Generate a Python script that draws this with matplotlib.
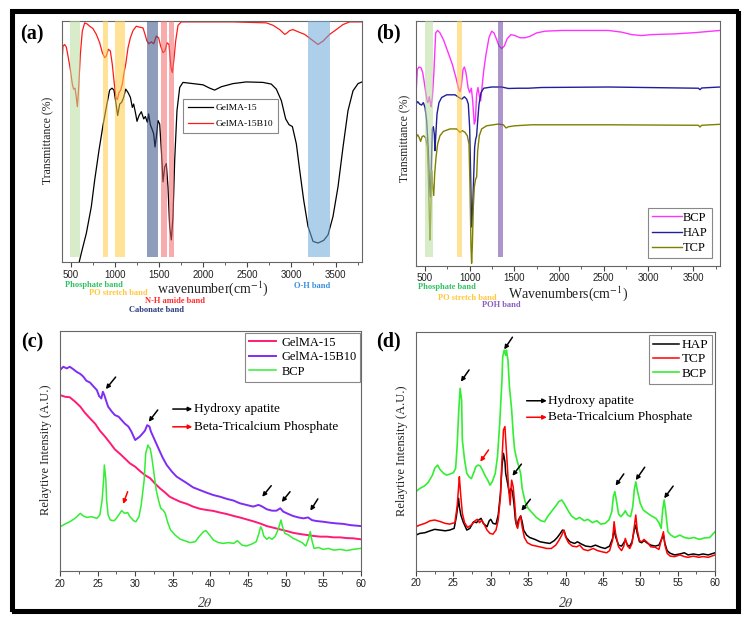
import numpy as np
import matplotlib
matplotlib.use("Agg")
import matplotlib.pyplot as plt
from matplotlib.patches import Rectangle

plt.rcParams['font.family'] = ['Liberation Serif', 'DejaVu Serif']
plt.rcParams['mathtext.fontset'] = 'stix'

# ---------------- (a) FTIR GelMA ----------------
a_gel_x = [595, 619, 676, 732, 770, 819, 865, 902, 940, 967, 989, 1008, 1031, 1054, 1076, 1099, 1122, 1148,
           1175, 1197, 1212, 1235, 1250, 1273, 1299, 1326, 1345, 1367, 1382, 1401, 1420, 1439, 1454, 1469,
           1488, 1507, 1526, 1545, 1564, 1582, 1601, 1620, 1639, 1658, 1677, 1703, 1734, 1771, 1885, 1998,
           2074, 2130, 2206, 2338, 2489, 2678, 2772, 2829, 2886, 2935, 2973, 3011, 3056, 3094, 3139, 3188,
           3245, 3301, 3366, 3415, 3471, 3528, 3585, 3641, 3698, 3755, 3800]
a_gel_y = [0, 3.7, 12, 23, 34, 46.5, 57, 64.4, 71.6, 72.4, 71.6, 67, 61, 65.8, 66.5, 68.6, 72, 70.6,
           68.6, 64.4, 65.8, 61.7, 58.6, 61, 62.6, 59.6, 60.6, 58.2, 61.7, 57.2, 55.4, 53.4, 47.9, 52,
           58.9, 57.5, 46.5, 33.4, 39.6, 41, 31.3, 14.8, 9.2, 18.9, 42.3, 63, 72.7, 74.8, 74.3, 73.8,
           72.4, 71.6, 73, 74.3, 75, 74.8, 74.1, 72, 67.2, 59.6, 57.2, 56.4, 49.2, 38.2, 25.8, 14.8,
           8.6, 7.9, 9, 11.3, 18.9, 31.3, 47.9, 63, 71.3, 74.3, 75]
a_b10_x = [400, 411, 430, 449, 468, 494, 517, 532, 547, 562, 574, 589, 608, 630, 657, 683, 714, 751, 789,
           827, 857, 884, 902, 925, 948, 970, 993, 1012, 1027, 1046, 1065, 1084, 1103, 1122, 1148, 1175,
           1205, 1242, 1280, 1318, 1341, 1363, 1386, 1412, 1439, 1469, 1495, 1518, 1545, 1567, 1590, 1613,
           1635, 1650, 1669, 1688, 1715, 1752, 2338, 2716, 2791, 2867, 2924, 2950, 2980, 3018, 3075, 3150,
           3226, 3301, 3358, 3433, 3509, 3585, 3660, 3800]
a_b10_y = [83, 89.9, 90.6, 89.5, 85.8, 80.3, 74.1, 72, 72.4, 68.6, 64.7, 72.7, 86.5, 96.1, 99.6, 99.2, 98.2,
           97.2, 94.8, 91.3, 87.2, 85.1, 85.8, 88.6, 87.9, 82.3, 74.1, 68.6, 67.6, 70.6, 71.6, 74.1, 78.9,
           82.3, 89.2, 93.4, 96.4, 98.2, 97.8, 97.5, 94.8, 92, 90.9, 91.7, 90.9, 94.1, 93.4, 89.9, 87.2,
           87.9, 91.3, 90.6, 81, 78.9, 84.4, 92, 98.6, 100, 100, 99.6, 98.6, 96.8, 94.8, 95.4, 96.4, 96.8,
           95.9, 94.8, 92.7, 90.6, 92, 94.8, 96.8, 98.9, 100, 100]
a_bands = [(494, 608), (861, 925), (997, 1110), (1367, 1488), (1518, 1590), (1609, 1669), (3188, 3434)]
a_band_colors = ['#bbde9e', '#ffcb3f', '#ffcb3f', '#344d82', '#f56666', '#f56666', '#6ba8d9']

# ---------------- (b) FTIR ceramics ----------------
b_bcp_x = [400, 415, 434, 456, 475, 493, 512, 530, 542, 549, 560, 568, 583, 601, 620, 642, 668, 706, 754,
           806, 847, 873, 892, 907, 926, 941, 959, 982, 1000, 1019, 1034, 1052, 1064, 1078, 1093, 1108,
           1123, 1138, 1157, 1183, 1216, 1246, 1272, 1302, 1328, 1358, 1388, 1421, 1462, 1507, 1563, 1619,
           1675, 1750, 1843, 2029, 2365, 2551, 2700, 2812, 2924, 3036, 3297, 3520, 3800]
b_bcp_y = [70.3, 80.5, 81.5, 81.2, 79.2, 75.1, 70.3, 66.9, 67.6, 69.3, 66.9, 65.2, 69, 79.9, 95.5, 96.5,
           95.5, 92.8, 88, 82.6, 77.1, 73.1, 71.4, 73.7, 80.5, 81.5, 79.2, 73.1, 71, 72.8, 67.6, 58.1,
           59.5, 70.3, 73.1, 69.7, 67.6, 73.1, 79.9, 86.7, 93.5, 96.2, 95.5, 92.8, 90.1, 89.1, 90.1, 93.2,
           94.8, 94.4, 93.5, 93.5, 94.1, 95.5, 96.2, 96.5, 96.5, 96.5, 95.8, 94.8, 94.4, 94.8, 95.1, 95.6, 96.5]
b_hap_x = [400, 419, 441, 463, 482, 501, 519, 538, 549, 560, 571, 583, 594, 605, 612, 620, 635, 657, 687,
           743, 836, 881, 911, 941, 967, 985, 1000, 1011, 1022, 1034, 1045, 1056, 1067, 1078, 1090, 1105,
           1127, 1157, 1246, 1358, 1433, 1545, 1656, 1805, 2551, 3558, 3576, 3595, 3800]
b_hap_y = [66.3, 67.3, 66.3, 65.9, 66.9, 64.9, 59.5, 47.2, 35, 28.2, 40.4, 56.1, 57, 54, 47.2, 52.7, 62.2,
           66.9, 69, 70.1, 70.1, 69, 68.3, 69.3, 68.3, 66.3, 56.7, 37.7, 15.9, 24.1, 36.3, 48.6, 51.8,
           53.3, 59.5, 66.3, 71, 72.8, 73.3, 73.3, 72.7, 72.8, 72.8, 73.1, 73.3, 72.8, 72.2, 72.9, 73.3]
b_tcp_x = [400, 419, 437, 452, 467, 486, 508, 527, 538, 549, 557, 564, 575, 586, 598, 609, 624, 642, 668,
           706, 780, 855, 892, 918, 948, 974, 993, 1004, 1015, 1022, 1030, 1041, 1052, 1067, 1078, 1090,
           1108, 1134, 1190, 1321, 1377, 1407, 1433, 1507, 1694, 2551, 3558, 3576, 3595, 3800]
b_tcp_y = [52.7, 53.7, 52.4, 51, 52.9, 53.3, 52.4, 48.6, 37.7, 20, 10.5, 20, 39, 32.2, 28.8, 37.7, 44.5,
           49.9, 53.3, 55.1, 56.1, 56.1, 54.7, 55.4, 54.7, 53.3, 49.9, 32.2, 7.8, 1, 7.8, 24.1, 32.2, 35.6,
           36.3, 47.2, 53.3, 56.1, 57.4, 58.1, 57.8, 56.5, 57, 57.4, 57.8, 57.8, 57.6, 56.9, 57.6, 58]
b_bands = [(500, 587), (858, 918), (1321, 1377)]
b_band_colors = ['#bbde9e', '#ffcb3f', '#6a3fa3']

# ---------------- (c) XRD GelMA ----------------
c_g15_x = [20, 20.7, 21.3, 22, 22.7, 23.3, 24, 24.7, 25.3, 26, 26.7, 27.3, 28, 28.6, 29.3, 30, 30.6, 31.3,
           32, 32.6, 33.3, 34, 34.6, 35.3, 36, 36.9, 37.7, 38.6, 39.5, 40.4, 41.3, 42.2, 43.1, 43.9, 44.8,
           45.7, 46.6, 47.5, 48.4, 49.3, 50.2, 51, 51.9, 52.8, 53.7, 54.6, 55.5, 56.4, 57.3, 58.1, 59, 60]
c_g15_y = [73.2, 72.5, 72.3, 70.5, 68.4, 65.9, 63.5, 61.2, 58.4, 55.9, 53.1, 50.6, 48.7, 46.9, 44.8, 43.4,
           41.7, 39.9, 38.6, 36.5, 34.4, 32.6, 30.9, 29.8, 28.8, 27.9, 26.8, 25.9, 25.4, 25, 24.3, 23.7,
           22.9, 22.3, 21.5, 20.7, 19.8, 18.7, 18, 17.3, 16.6, 15.9, 15.4, 15, 14.6, 14.3, 14.3, 14, 14,
           13.7, 13.6, 13.2]
c_b10_x = [20, 20.44, 20.9, 21.3, 21.8, 22.2, 22.7, 23.1, 23.5, 24, 24.4, 24.9, 25.2, 25.5, 25.7, 25.9,
           26.1, 26.4, 26.9, 27.3, 27.8, 28.2, 28.6, 29.1, 29.5, 30, 30.3, 30.6, 31, 31.3, 31.6, 31.9, 32.1,
           32.4, 32.8, 33.2, 33.7, 34.2, 34.9, 35.5, 36.2, 36.9, 37.7, 38.6, 39.5, 40.4, 41.3, 42.2, 43.1,
           43.9, 44.8, 45.7, 46.4, 46.8, 47.5, 48.2, 48.8, 49.3, 49.7, 50.4, 51, 51.7, 52.4, 53, 53.5, 54.1,
           55, 55.9, 56.8, 57.7, 58.6, 60]
c_b10_y = [83.6, 85, 84.3, 85, 83.9, 82.9, 82, 80.9, 79.2, 78.4, 77, 75.3, 72.8, 71.8, 74.6, 73.2, 71.2,
           68.4, 66.3, 64.9, 64.2, 62.8, 61.4, 60.1, 58, 54.5, 55.2, 55.9, 57.3, 58.4, 60.7, 60.1, 58, 55.9,
           53.1, 50.3, 46.9, 44.1, 41.3, 39.3, 37.9, 36.5, 34.8, 33.7, 32.6, 31.6, 30.9, 30, 29.3, 28.2,
           27.5, 26.8, 27.5, 27, 25.7, 25.1, 25.1, 26.1, 24.7, 23.7, 22.9, 22.3, 21.9, 22.3, 21.2, 20.8,
           20.5, 20.1, 19.8, 19.6, 19.1, 18.7]
c_bcp_x = [20, 20.7, 21.3, 22, 22.7, 23.1, 23.6, 24.2, 24.9, 25.3, 25.6, 25.8, 25.9, 26.1, 26.2, 26.4, 26.7,
           27.2, 27.5, 27.9, 28.2, 28.6, 29, 29.3, 29.8, 30.1, 30.5, 30.8, 31.2, 31.4, 31.7, 31.8, 32, 32.2,
           32.5, 32.8, 33.1, 33.4, 33.7, 34, 34.3, 34.7, 35.3, 36, 36.6, 37.3, 38, 38.5, 39.1, 39.4, 39.9,
           40.4, 41.1, 41.7, 42.4, 43.1, 43.6, 44.2, 44.8, 45.5, 46.1, 46.4, 46.7, 46.9, 47.1, 47.5, 47.8,
           48.2, 48.6, 49, 49.4, 49.6, 49.9, 50.4, 51, 51.5, 52.2, 52.7, 53, 53.3, 53.5, 53.8, 54.4, 55,
           55.7, 56.4, 57.3, 58.1, 59, 60]
c_bcp_y = [18.4, 19.6, 20.5, 21.9, 24, 22.9, 22.3, 22.6, 21.9, 23.3, 29.5, 37.9, 44.1, 37.9, 29.5, 23.3,
           21.2, 20.9, 21.9, 23.7, 25.1, 24, 24.3, 22.6, 20.9, 20.5, 22.6, 27.5, 37.9, 49, 52.4, 51.7, 51,
           47.6, 40.6, 33.7, 29.5, 26.1, 25.4, 24, 20.5, 17.1, 15, 13.2, 12.6, 11.8, 12.2, 14.3, 16.4, 16.8,
           15, 12.9, 11.8, 11.5, 11.8, 11.5, 12.6, 10.8, 10.4, 11.2, 12.2, 15, 18.4, 17.1, 14.6, 13.2, 14,
           13.2, 14.3, 17.1, 21.2, 18.4, 15.7, 15, 13.6, 12.9, 11.8, 10.4, 12.9, 16.4, 12.9, 9.4, 9.8, 9,
           9.4, 8.7, 9, 8.5, 9, 9.4]
c_arrows_black = [((26.1, 75.7), (27.4, 80.7)), ((31.8, 62.1), (33.0, 67.0)), ((46.9, 30.9), (48.1, 35.5)),
                  ((49.5, 28.7), (50.6, 33.0)), ((53.3, 25.1), (54.3, 30.0))]
c_arrows_red = [((28.4, 27.9), (29.0, 33.0))]

# ---------------- (d) XRD ceramics ----------------
d_hap_x = [20, 20.5, 21.2, 21.9, 22.5, 23.2, 23.9, 24.5, 25.1, 25.4, 25.7, 25.8, 26, 26.3, 26.8, 27.2, 27.7,
           28.1, 28.4, 28.7, 29, 29.5, 29.8, 30, 30.3, 30.7, 31, 31.3, 31.5, 31.7, 31.9, 32, 32.3, 32.5,
           32.7, 32.9, 33.1, 33.3, 33.5, 33.7, 34, 34.2, 34.4, 34.8, 35.2, 35.9, 36.6, 37.3, 37.9, 38.5,
           38.9, 39.3, 39.6, 39.8, 40.1, 40.6, 41.2, 41.6, 42.1, 42.7, 43.4, 44, 44.7, 45.3, 45.9, 46.3,
           46.5, 46.7, 47.1, 47.5, 47.8, 48, 48.3, 48.6, 48.9, 49.2, 49.4, 49.6, 49.9, 50.2, 50.5, 51, 51.4,
           52, 52.5, 52.9, 53.1, 53.3, 53.6, 54, 54.6, 55.3, 55.9, 56.4, 57.1, 57.8, 58.4, 59.1, 60]
d_hap_y = [14.9, 15.6, 15.9, 16.7, 17.3, 17, 16.7, 17, 17.7, 22.6, 30.3, 26.8, 23.3, 20.5, 17, 17.7, 20.5,
           20.1, 21.2, 21.9, 19.8, 18.4, 20.9, 21.5, 19.8, 19.5, 23.3, 32.4, 43.5, 49.1, 45.6, 40.7, 35.8,
           32.4, 34.4, 33.1, 28.2, 21.2, 18.4, 21.2, 22.9, 20.5, 17, 14.9, 13.9, 13.1, 12.1, 11.7, 11.4,
           12.6, 13.9, 15.6, 17, 16.7, 13.9, 12.1, 11.4, 12.1, 11.2, 10.3, 10, 10.7, 9.8, 9.3, 10.3, 13.5,
           17, 14.2, 10.7, 10.3, 11.7, 12.8, 10.7, 10.3, 12.1, 17, 19.1, 15.6, 12.1, 11.7, 12.6, 11.4, 10.7,
           10.3, 10.7, 13.5, 14.9, 11.4, 8.4, 7.3, 6.6, 7, 7.5, 6.6, 7, 6.6, 7, 6.6, 7.5]
d_tcp_x = [20, 20.5, 21.2, 21.9, 22.5, 23.2, 23.9, 24.5, 25.2, 25.5, 25.7, 25.8, 26, 26.2, 26.5, 26.9, 27.4,
           27.9, 28.2, 28.5, 28.8, 29.1, 29.5, 29.9, 30.3, 30.7, 31, 31.3, 31.5, 31.7, 31.9, 32, 32.2, 32.4,
           32.6, 32.7, 32.8, 33, 33.2, 33.4, 33.6, 33.8, 34, 34.2, 34.5, 34.9, 35.5, 36.1, 36.8, 37.5, 38.1,
           38.7, 39.1, 39.5, 39.8, 40, 40.4, 40.9, 41.5, 41.9, 42.4, 43, 43.7, 44.3, 44.9, 45.5, 45.9, 46.3,
           46.5, 46.7, 47.1, 47.5, 47.8, 48, 48.3, 48.6, 48.9, 49.2, 49.4, 49.6, 49.9, 50.2, 50.5, 51, 51.4,
           52, 52.5, 52.9, 53.1, 53.3, 53.6, 54, 54.6, 55.3, 55.9, 56.4, 57.1, 57.8, 58.4, 59.1, 60]
d_tcp_y = [18.4, 19.1, 19.8, 20.9, 21.2, 20.6, 19.8, 19.5, 20.1, 26.8, 35.1, 39.3, 31, 24, 20.1, 18.1, 19.1,
           20.9, 21.5, 20.1, 21.2, 19.5, 17, 15.6, 15.3, 17, 21.2, 31, 46.3, 58.9, 60.3, 54.7, 44.9, 33.8,
           27.5, 33.8, 37.9, 35.1, 28.2, 19.8, 17.7, 21.2, 22.9, 18.4, 13.9, 11.7, 10.7, 10.3, 9.8, 9.3,
           9.3, 10.7, 12.6, 14.9, 17, 14.2, 11.7, 10.3, 10, 10.7, 8.9, 8.4, 9.3, 8.4, 7.9, 7.5, 8.4, 12.8,
           20.5, 15.6, 10, 8.4, 10.3, 13.5, 10.3, 9.3, 11.4, 18.4, 23.3, 17, 12.6, 12.1, 13.1, 11.7, 10,
           9.8, 8.9, 13.9, 16.3, 10.7, 7.3, 6.1, 5.9, 6.6, 5.9, 5.6, 6.1, 5.6, 5.9, 5.6, 6.6]
d_bcp_x = [20, 20.5, 21.1, 21.6, 22.2, 22.5, 22.9, 23.2, 23.7, 24.1, 24.5, 25, 25.3, 25.5, 25.7, 25.9, 26.1,
           26.2, 26.5, 26.8, 27.1, 27.4, 27.8, 28, 28.3, 28.6, 28.9, 29.2, 29.6, 29.9, 30.2, 30.6, 30.9,
           31.2, 31.5, 31.6, 31.8, 32, 32.1, 32.3, 32.5, 32.8, 33, 33.2, 33.5, 33.7, 34, 34.2, 34.6, 35,
           35.6, 36.1, 36.7, 37.2, 37.6, 38.1, 38.7, 39.1, 39.5, 39.8, 40.3, 40.8, 41.4, 41.9, 42.5, 43,
           43.6, 44.2, 44.7, 45.3, 45.8, 46.2, 46.4, 46.6, 46.8, 47.1, 47.4, 47.8, 48, 48.3, 48.7, 49, 49.2,
           49.4, 49.6, 50, 50.4, 51, 51.5, 52.1, 52.5, 52.8, 53, 53.2, 53.4, 53.7, 54.1, 54.6, 55.3, 55.9,
           56.5, 57.2, 57.9, 58.6, 59.3, 60]
d_bcp_y = [33.1, 34.4, 35.4, 36.8, 40, 42.8, 44.2, 42.4, 40.7, 40, 40.4, 41, 42.8, 51.9, 65.8, 76.3, 71.4,
           54.7, 46.3, 40.7, 39.3, 38.5, 41.6, 43.5, 44.2, 43.8, 42.1, 40, 37.9, 35.8, 37.2, 40.7, 47.7,
           61.6, 79.8, 89.5, 92.3, 90.1, 92.3, 88.1, 77, 67.2, 57.5, 50.5, 46.3, 44.2, 40.7, 34.4, 28.9,
           26.1, 24, 22.3, 20.9, 20.5, 22.6, 24.7, 27.1, 28.9, 29.6, 28.2, 25.4, 22.9, 21.5, 22.3, 20.9,
           21.5, 20.1, 20.9, 19.5, 19.8, 21.2, 24.7, 31, 33.1, 29.6, 23.7, 22.6, 24, 25.1, 23.3, 22.6, 26.8,
           33.8, 37.2, 33.8, 28.2, 25.4, 24, 22.9, 21.9, 20.1, 17.7, 25.4, 29.6, 24.8, 16.3, 14.9, 13.9,
           14.9, 13.9, 13.5, 13.9, 13.1, 13.7, 13.9, 16.3]
d_arrows_black = [((26.0, 79.1), (27.1, 84.0)), ((31.8, 92.6), (32.9, 97.7)), ((32.9, 39.7), (34.1, 44.6)),
                  ((34.1, 25.1), (35.3, 29.9)), ((46.7, 35.6), (47.8, 40.5)), ((49.4, 37.9), (50.6, 43.3)),
                  ((53.2, 30.3), (54.4, 35.4))]
d_arrows_red = [((28.6, 45.6), (29.7, 50.5))]

W, H = 750, 620
fig = plt.figure(figsize=(7.5, 6.2), dpi=100)


def px_axes(l, t, r, b):
    return fig.add_axes([l / W, 1 - b / H, (r - l) / W, (b - t) / H])


def style(ax, major, minor):
    for s in ax.spines.values():
        s.set_color('#666666')
        s.set_linewidth(0.8)
    ax.set_yticks([])
    ax.xaxis.set_major_locator(plt.MultipleLocator(major))
    ax.xaxis.set_minor_locator(plt.MultipleLocator(minor))
    ax.tick_params(axis='x', which='major', direction='out', length=3.5, width=0.8, color='#444444',
                   labelsize=7, pad=2, labelcolor='#222222')
    ax.tick_params(axis='x', which='minor', direction='out', length=2, width=0.6, color='#444444')
    for lab in ax.get_xticklabels():
        lab.set_fontfamily('Liberation Sans')


def ftext(x, y, s, **kw):
    fig.text(x / W, 1 - y / H, s, **kw)


def legend_at(ax, x, y, fs, hl, **kw):
    leg = ax.legend(loc='upper left', bbox_to_anchor=(x / W, 1 - y / H), bbox_transform=fig.transFigure,
                    fontsize=fs, frameon=True, fancybox=False, edgecolor='#888888', handlelength=hl,
                    borderaxespad=0, framealpha=1, **kw)
    leg.get_frame().set_linewidth(0.8)
    return leg


def arrows(ax, pairs, color):
    for tip, tail in pairs:
        ax.annotate('', xy=tip, xytext=tail, arrowprops=dict(arrowstyle='-|>', color=color, lw=1.1,
                                                             mutation_scale=6, shrinkA=0, shrinkB=0))


# panel a
axa = px_axes(62, 20.7, 362, 262)
for (lo, hi), c in zip(a_bands, a_band_colors):
    axa.axvspan(lo, hi, ymin=0.02, ymax=1, color=c, alpha=0.55, lw=0, zorder=3)
axa.plot(a_gel_x, a_gel_y, color='black', lw=0.9, label='GelMA-15')
axa.plot(a_b10_x, a_b10_y, color='#ff1a1a', lw=0.9, label='GelMA-15B10')
axa.set_xlim(400, 3800)
axa.set_ylim(0, 100.5)
style(axa, 500, 250)
legend_at(axa, 183, 99, 6.8, 2.7, labelspacing=0.8, handletextpad=0.25, borderpad=0.5)

# panel b
axb = px_axes(416, 20.7, 720, 265.7)
for (lo, hi), c in zip(b_bands, b_band_colors):
    axb.axvspan(lo, hi, ymin=0.035, ymax=1, color=c, alpha=0.55, lw=0, zorder=3)
axb.plot(b_bcp_x, b_bcp_y, color='#ff33ff', lw=1.0, label='BCP')
axb.plot(b_hap_x, b_hap_y, color='#1f1f9a', lw=1.0, label='HAP')
axb.plot(b_tcp_x, b_tcp_y, color='#7f7f00', lw=1.0, label='TCP')
axb.set_xlim(400, 3800)
axb.set_ylim(0, 100.5)
style(axb, 500, 250)
legend_at(axb, 648, 208, 9, 2.4, labelspacing=0.25, handletextpad=0.1, borderpad=0.3)

# panel c
axc = px_axes(60, 330.7, 360.7, 571)
axc.plot(c_g15_x, c_g15_y, color='#ff1a75', lw=1.4, label='GelMA-15')
axc.plot(c_b10_x, c_b10_y, color='#7f2cf5', lw=1.4, label='GelMA-15B10')
axc.plot(c_bcp_x, c_bcp_y, color='#33ee33', lw=1.1, label='BCP')
axc.set_xlim(20, 60)
axc.set_ylim(0, 100)
style(axc, 5, 2.5)
legend_at(axc, 245, 333, 9, 2.2, labelspacing=0.2, handletextpad=0.4, borderpad=0.3)
arrows(axc, c_arrows_black, 'black')
arrows(axc, c_arrows_red, 'red')
arrows(axc, [((37.6, 67.4), (35.0, 67.4))], 'black')
arrows(axc, [((37.6, 60.0), (35.0, 60.0))], 'red')
axc.text(37.8, 67.4, 'Hydroxy apatite', fontsize=9.5, va='center')
axc.text(37.8, 60.0, 'Beta-Tricalcium Phosphate', fontsize=9.5, va='center')

# panel d
axd = px_axes(416, 331.7, 715, 570.7)
axd.plot(d_hap_x, d_hap_y, color='black', lw=1.1, label='HAP')
axd.plot(d_tcp_x, d_tcp_y, color='#ff0000', lw=1.1, label='TCP')
axd.plot(d_bcp_x, d_bcp_y, color='#33ee33', lw=1.2, label='BCP')
axd.set_xlim(20, 60)
axd.set_ylim(0, 100)
style(axd, 5, 2.5)
legend_at(axd, 649, 335, 9.5, 2.0, labelspacing=0.15, handletextpad=0.15, borderpad=0.3)
arrows(axd, d_arrows_black, 'black')
arrows(axd, d_arrows_red, 'red')
arrows(axd, [((37.5, 71.1), (34.8, 71.1))], 'black')
arrows(axd, [((37.5, 64.2), (34.8, 64.2))], 'red')
axd.text(37.7, 71.1, 'Hydroxy apatite', fontsize=9.5, va='center')
axd.text(37.7, 64.2, 'Beta-Tricalcium Phosphate', fontsize=9.5, va='center')

# axis labels
ftext(48, 140, 'Transmittance (%)', rotation=90, ha='center', va='center', fontsize=8.5, color='#222222')
ftext(405, 138, 'Transmittance (%)', rotation=90, ha='center', va='center', fontsize=8.5, color='#222222')
ftext(46, 450, 'Relaytive Intensity (A.U.)', rotation=90, ha='center', va='center', fontsize=9, color='#222222')
ftext(402, 451, 'Relaytive Intensity (A.U.)', rotation=90, ha='center', va='center', fontsize=9, color='#222222')
ftext(213, 289, 'wavenumber(cm$^{-1}$)', ha='center', va='center', fontsize=10, color='#222222')
ftext(568, 294, 'Wavenumbers(cm$^{-1}$)', ha='center', va='center', fontsize=10, color='#222222')
ftext(205, 603, '2$\\theta$', ha='center', va='center', fontsize=10, color='#333333', style='italic')
ftext(566, 603, '2$\\theta$', ha='center', va='center', fontsize=10, color='#333333', style='italic')

# band labels
bl = dict(fontsize=6, fontweight='bold', va='center', ha='left')
ftext(65, 285, 'Phosphate band', color='#2fc060', **bl)
ftext(89, 293, 'PO stretch band', color='#ffc83c', **bl)
ftext(145, 301, 'N-H amide band', color='#ff2a2a', **bl)
ftext(129, 310, 'Cabonate band', color='#2a3a80', **bl)
ftext(294, 286, 'O-H band', color='#3a8ee0', **bl)
ftext(418, 287, 'Phosphate band', color='#2fc060', **bl)
ftext(438, 298, 'PO stretch band', color='#ffc83c', **bl)
ftext(482, 305, 'POH band', color='#8a5cc0', **bl)

# panel letters
for x, y, s in [(32, 34, '(a)'), (388, 33, '(b)'), (32, 342, '(c)'), (388, 341, '(d)')]:
    ftext(x, y, s, fontsize=14.5, fontweight='bold', ha='center', va='center')

# outer frame with shadow
fig.add_artist(Rectangle((12.5 / W, 1 - 612 / H), 726 / W, 600 / H, transform=fig.transFigure,
                         fill=False, edgecolor='black', lw=2.2))
fig.add_artist(Rectangle((10.5 / W, 1 - 610 / H), 726 / W, 600 / H, transform=fig.transFigure,
                         fill=False, edgecolor='black', lw=2.2))

fig.savefig('out.png', dpi=100)
